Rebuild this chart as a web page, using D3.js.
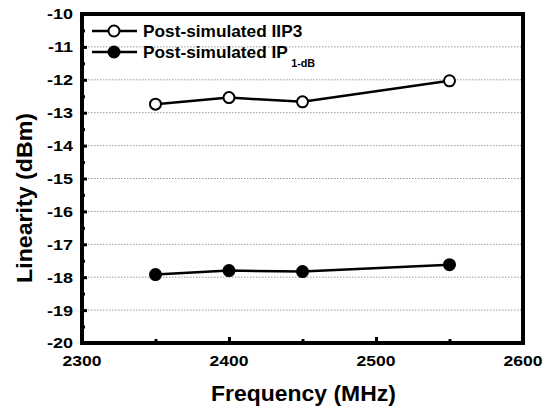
<!DOCTYPE html>
<html><head><meta charset="utf-8">
<script src="https://cdn.jsdelivr.net/npm/d3@7"></script>
<style>body{margin:0;background:#fff}svg{display:block}</style>
</head><body>
<script>
const freqs = [2350, 2400, 2450, 2550];
const iip3 = [-12.74, -12.54, -12.67, -12.03];
const ip1db = [-17.92, -17.80, -17.83, -17.62];
const xTicks = [2300, 2400, 2500, 2600];
const yTicks = [-10, -11, -12, -13, -14, -15, -16, -17, -18, -19, -20];

const W = 559, H = 409;
const m = {left: 82, right: 36, top: 14, bottom: 66};
const svg = d3.select("body").append("svg").attr("width", W).attr("height", H);
const x = d3.scaleLinear().domain([2300, 2600]).range([m.left, W - m.right]);
const y = d3.scaleLinear().domain([-20, -10]).range([H - m.bottom, m.top]);
const font = "Arial, 'Liberation Sans', sans-serif";

// dotted grid
svg.append("g").selectAll("line").data(yTicks.filter(v => v > -20 && v < -10)).join("line")
  .attr("x1", m.left).attr("x2", W - m.right)
  .attr("y1", d => y(d)).attr("y2", d => y(d))
  .attr("stroke", "#999").attr("stroke-width", 1).attr("stroke-dasharray", "1.5,1.5");

// inward ticks
function ticks(axis) {
  return g => g.call(axis)
    .call(s => s.select(".domain").remove())
    .call(s => s.selectAll("line").attr("stroke", "#000").attr("stroke-width", 3));
}
svg.append("g").attr("transform", `translate(${m.left},0)`)
  .call(ticks(d3.axisRight(y).tickValues(yTicks).tickSize(5).tickFormat("")));
svg.append("g").attr("transform", `translate(${m.left},0)`)
  .call(ticks(d3.axisRight(y).tickValues(d3.range(-19.5, -10, 1)).tickSize(3).tickFormat("")));
svg.append("g").attr("transform", `translate(0,${H - m.bottom})`)
  .call(ticks(d3.axisTop(x).tickValues(xTicks).tickSize(6).tickFormat("")));
svg.append("g").attr("transform", `translate(0,${H - m.bottom})`)
  .call(ticks(d3.axisTop(x).tickValues([2350, 2450, 2550]).tickSize(4).tickFormat("")));

// frame
svg.append("rect").attr("x", m.left).attr("y", m.top)
  .attr("width", W - m.left - m.right).attr("height", H - m.top - m.bottom)
  .attr("fill", "none").attr("stroke", "#000").attr("stroke-width", 4);

// tick labels (wide bold face)
svg.append("g").selectAll("text").data(yTicks).join("text")
  .attr("transform", d => `translate(${m.left - 9},${y(d)}) scale(1.2,1)`).attr("dy", "0.36em")
  .attr("text-anchor", "end").attr("font-family", font).attr("font-weight", "bold")
  .attr("font-size", 15).text(d => d);
svg.append("g").selectAll("text").data(xTicks).join("text")
  .attr("transform", d => `translate(${x(d)},${H - m.bottom + 23}) scale(1.17,1)`)
  .attr("text-anchor", "middle").attr("font-family", font).attr("font-weight", "bold")
  .attr("font-size", 15).text(d => d);

// axis titles
svg.append("text").attr("transform", `translate(${(m.left + W - m.right) / 2 + 1},401) scale(1.02,1)`)
  .attr("text-anchor", "middle").attr("font-family", font).attr("font-weight", "bold")
  .attr("font-size", 22.5).text("Frequency (MHz)");
svg.append("text").attr("transform", `translate(32,198) rotate(-90) scale(1.03,1)`)
  .attr("text-anchor", "middle").attr("font-family", font).attr("font-weight", "bold")
  .attr("font-size", 22.5).text("Linearity (dBm)");

// series
const line = d3.line().x((d, i) => x(freqs[i])).y(d => y(d));
function series(vals, fill) {
  svg.append("path").datum(vals).attr("d", line)
    .attr("fill", "none").attr("stroke", "#000").attr("stroke-width", 2.5);
  svg.append("g").selectAll("circle").data(vals).join("circle")
    .attr("cx", (d, i) => x(freqs[i])).attr("cy", d => y(d)).attr("r", 5.5)
    .attr("fill", fill).attr("stroke", "#000").attr("stroke-width", 2);
}
series(iip3, "#fff");
series(ip1db, "#000");

// legend
const legend = [{label: "Post-simulated IIP3", fill: "#fff", sub: null},
                {label: "Post-simulated IP", fill: "#000", sub: "1-dB"}];
legend.forEach((d, i) => {
  const ly = 31 + i * 21;
  svg.append("line").attr("x1", 92).attr("x2", 137).attr("y1", ly).attr("y2", ly)
    .attr("stroke", "#000").attr("stroke-width", 2.5);
  svg.append("circle").attr("cx", 114).attr("cy", ly).attr("r", 5.5)
    .attr("fill", d.fill).attr("stroke", "#000").attr("stroke-width", 2);
  const t = svg.append("text").attr("transform", `translate(143,${ly}) scale(1.08,1)`).attr("dy", "0.36em")
    .attr("font-family", font).attr("font-weight", "bold").attr("font-size", 16).text(d.label);
  if (d.sub) t.append("tspan").attr("dx", 3).attr("dy", 9).attr("font-size", 10).text(d.sub);
});
</script>
</body></html>
